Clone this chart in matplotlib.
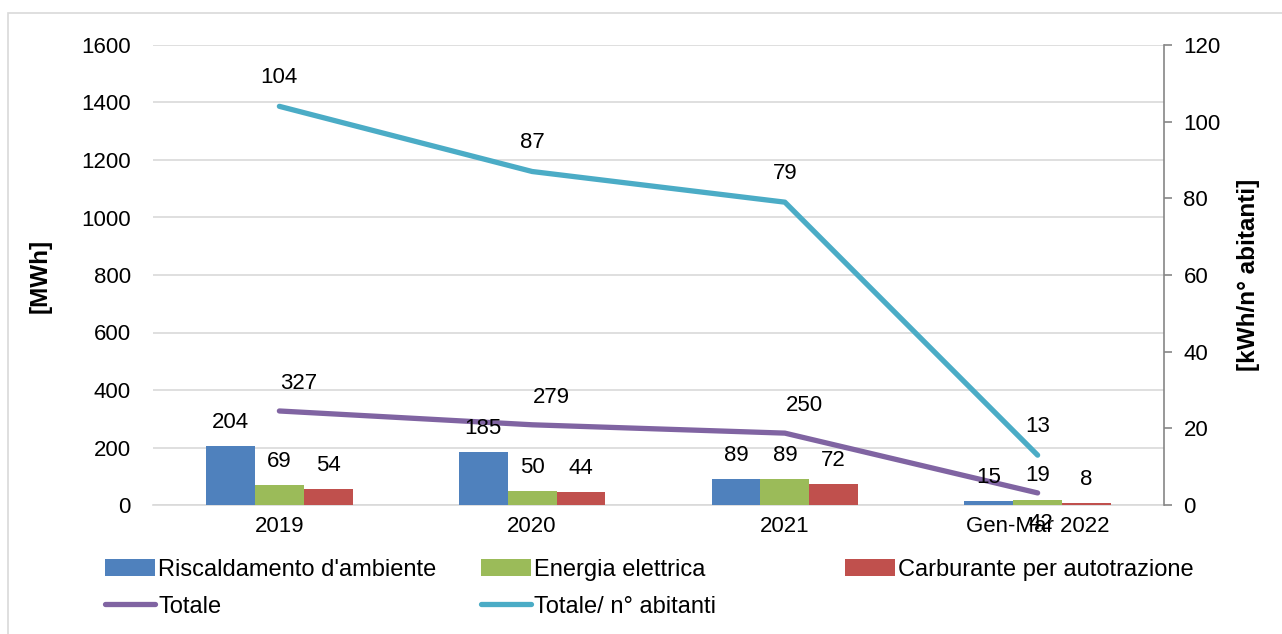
import matplotlib
matplotlib.use("Agg")
import matplotlib.pyplot as plt
from matplotlib.patches import Rectangle
from matplotlib.lines import Line2D
import numpy as np

plt.rcParams['font.family'] = ['Liberation Sans', 'DejaVu Sans']

categories = ["2019", "2020", "2021", "Gen-Mar 2022"]
riscaldamento = [204, 185, 89, 15]
energia = [69, 50, 89, 19]
carburante = [54, 44, 72, 8]
totale = [327, 279, 250, 42]
totale_abitanti = [104, 87, 79, 13]

series_names = ["Riscaldamento d'ambiente", "Energia elettrica", "Carburante per autotrazione",
                "Totale", "Totale/ n° abitanti"]
c_blue, c_green, c_red = "#4F81BD", "#9BBB59", "#C0504D"
c_purple, c_cyan = "#8064A2", "#4BACC6"

W, H = 1282, 634
fig = plt.figure(figsize=(W / 100, H / 100), dpi=100)
fig.patches.append(Rectangle((8 / W, -0.1), 1.2, 1 - 13 / H + 0.1, transform=fig.transFigure,
                             fill=False, edgecolor="#D9D9D9", linewidth=1.2))

ax = fig.add_axes([153 / W, 1 - 505 / H, (1164 - 153) / W, (505 - 45) / H])
ax2 = ax.twinx()

x = np.arange(len(categories))
bw = 0.193
fs = 16

bars = []
for i, (vals, col) in enumerate([(riscaldamento, c_blue), (energia, c_green), (carburante, c_red)]):
    b = ax.bar(x + (i - 1) * bw, vals, bw, color=col, zorder=3)
    bars.append(b)
    for xi, v in zip(x + (i - 1) * bw, vals):
        ax.annotate(str(v), (xi, v), xytext=(0, 17), textcoords="offset points",
                    ha="center", va="center", fontsize=fs, zorder=6)

lt, = ax.plot(x, totale, color=c_purple, lw=3.8, solid_capstyle="round", zorder=4)
for i, (xi, v) in enumerate(zip(x, totale)):
    off = (14, 20) if i < len(x) - 1 else (2, -22)
    ax.annotate(str(v), (xi, v), xytext=off, textcoords="offset points",
                ha="center", va="center", fontsize=fs, zorder=6)

la, = ax2.plot(x, totale_abitanti, color=c_cyan, lw=3.8, solid_capstyle="round", zorder=4)
for xi, v in zip(x, totale_abitanti):
    ax2.annotate(str(v), (xi, v), xytext=(0, 21), textcoords="offset points",
                 ha="center", va="center", fontsize=fs, zorder=6)

ax.set_xlim(-0.5, len(categories) - 0.5)
ax.set_ylim(0, 1600)
ax.set_yticks(np.arange(0, 1601, 200))
ax2.set_ylim(0, 120)
ax2.set_yticks(np.arange(0, 121, 20))
ax.set_xticks(x)
ax.set_xticklabels(categories, fontsize=fs)
ax.tick_params(axis="x", length=0, pad=8)
ax.tick_params(axis="y", length=0, labelsize=fs, pad=16)
ax2.tick_params(axis="y", length=6, width=1.2, color="#868686", labelsize=fs, pad=8)
ax.grid(axis="y", color="#D9D9D9", lw=1.2, zorder=0)
for s in ["top", "left", "right"]:
    ax.spines[s].set_visible(False)
    ax2.spines[s].set_visible(False)
ax.spines["bottom"].set_color("#D9D9D9")
ax.spines["bottom"].set_linewidth(1.2)
ax2.spines["bottom"].set_visible(False)
ax2.spines["right"].set_visible(True)
ax2.spines["right"].set_color("#868686")
ax2.spines["right"].set_linewidth(1.2)

fig.text(40 / W, 1 - 276 / H, "[MWh]", rotation=90, ha="center", va="center",
         fontsize=17.5, fontweight="bold")
fig.text(1248 / W, 1 - 275 / H, "[kWh/n° abitanti]", rotation=90, ha="center", va="center",
         fontsize=17.5, fontweight="bold")

leg_kw = dict(frameon=False, fontsize=17, handlelength=2.1, handleheight=0.75,
              handletextpad=0.15, labelspacing=0.62, borderpad=0, borderaxespad=0,
              loc="upper left")
h_lt = Line2D([], [], color=c_purple, lw=3.8, solid_capstyle="round")
h_la = Line2D([], [], color=c_cyan, lw=3.8, solid_capstyle="round")
l1 = fig.legend([bars[0], h_lt], [series_names[0], series_names[3]],
                bbox_to_anchor=(105 / W, 1 - 559 / H), **leg_kw)
l2 = fig.legend([bars[1], h_la], [series_names[1], series_names[4]],
                bbox_to_anchor=(481 / W, 1 - 559 / H), **leg_kw)
l3 = fig.legend([bars[2]], [series_names[2]],
                bbox_to_anchor=(845 / W, 1 - 559 / H), **leg_kw)

fig.savefig("out.png", dpi=100)
